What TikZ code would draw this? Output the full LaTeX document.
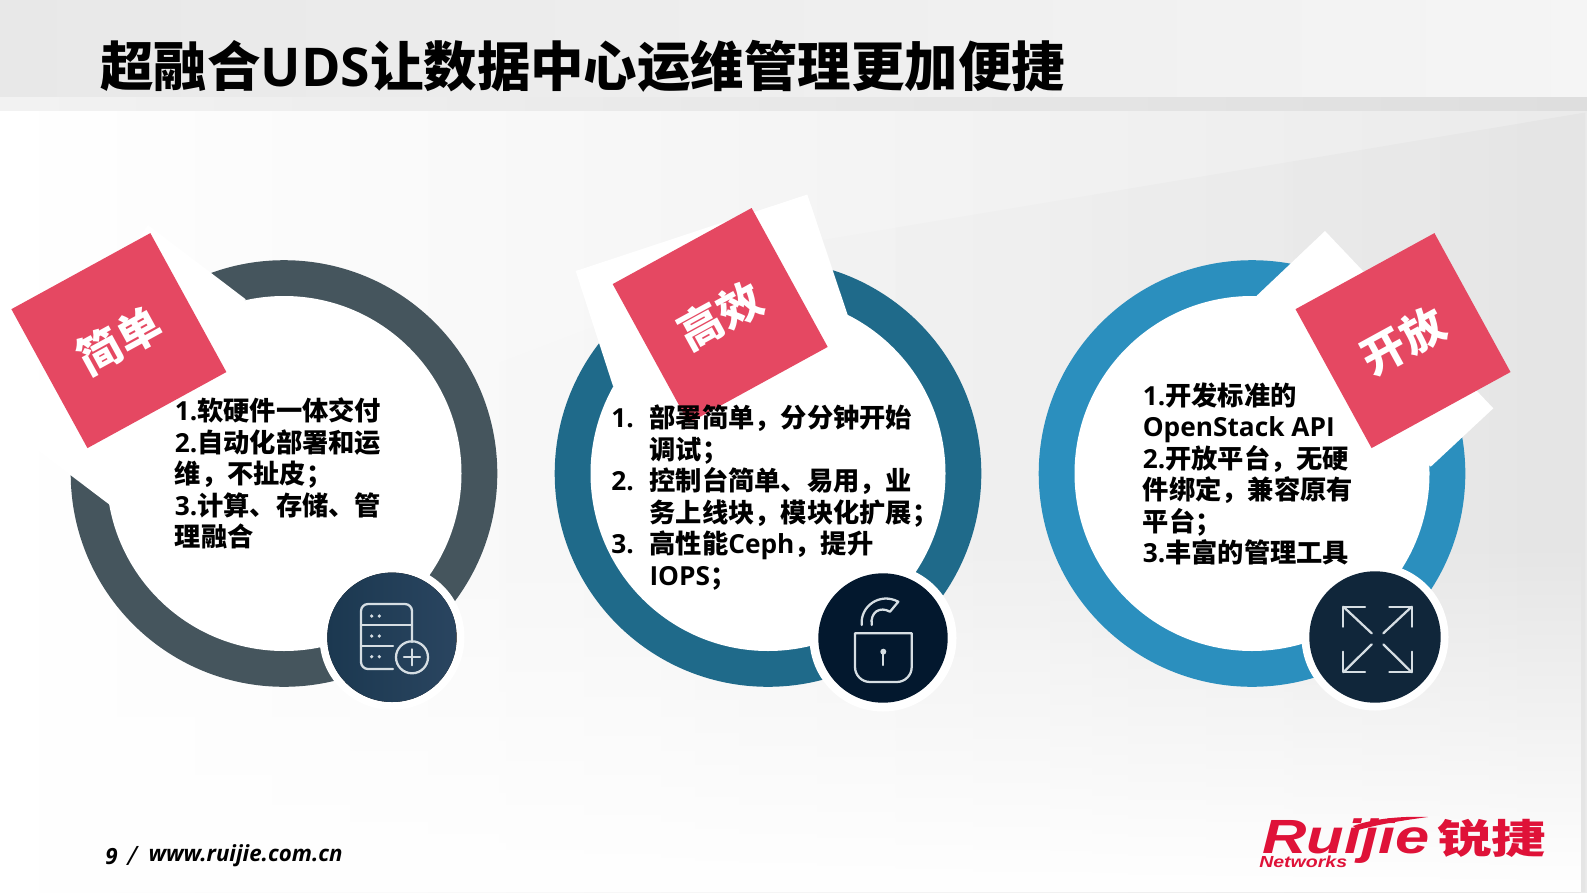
\documentclass[tikz,border=0pt]{standalone}
\usepackage{fontspec}
\usepackage{graphicx}
\setmainfont{Noto Sans CJK SC}
\newfontfamily\latnfont{Open Sans}
\newfontfamily\logofont{Liberation Sans}
\usetikzlibrary{fadings}
\definecolor{ringgrey}{HTML}{45555D}
\definecolor{ringteal}{HTML}{1F6A8A}
\definecolor{ringblue}{HTML}{2B8FBE}
\definecolor{tagpink}{HTML}{E54862}
\definecolor{logored}{HTML}{DF1238}
\definecolor{iconlight}{HTML}{D6DEE3}
\definecolor{disclow}{HTML}{1B3850}
\definecolor{dischigh}{HTML}{2A4560}
\definecolor{discnavy}{HTML}{03182E}
\definecolor{discdeep}{HTML}{10263A}
\newcommand{\latn}[1]{{\latnfont\bfseries #1}}
\newcommand{\numcol}[1]{\makebox[28.7pt][l]{\latn{#1}}}
\tikzfading[name=fadebottom, top color=transparent!100, bottom color=transparent!0]
\tikzfading[name=fadeleft, left color=transparent!100, right color=transparent!0]
\tikzset{
  ringdisk/.style={fill=#1},
  whitepatch/.style={fill=white},
  tagbox/.style={fill=tagpink, text=white, minimum size=118.8pt, inner sep=0pt,
    font=\fontsize{33}{33}\selectfont\bfseries},
  bodytext/.style={align=left, inner sep=0pt, anchor=west, text=black,
    font=\fontsize{19.7}{23.6}\selectfont\bfseries},
  iconline/.style={draw=iconlight, line width=1.7pt, line cap=round, line join=round},
  footertext/.style={anchor=west, inner sep=0pt, font=\fontsize{16.7}{16.7}\selectfont\latnfont\bfseries\itshape},
  logotext/.style={anchor=base west, inner sep=0pt, text=logored}
}
\begin{document}
\begin{tikzpicture}[x=0.75pt,y=-0.75pt]
\useasboundingbox (0,0) rectangle (1587,892);

% page background
\fill[left color=white, middle color=white!97!black, right color=white!92!black] (0,110) rectangle (1587,892);
\fill[black, opacity=0.025, path fading=fadeleft] (1587,112) -- (820,240) -- (400,400) -- (400,892) -- (1587,892) -- cycle;
\fill[white, path fading=fadebottom] (0,540) rectangle (1587,892);
\fill[left color=white!91!black, right color=white!96!black] (0,0) rectangle (1587,97);
\fill[left color=white!95!black, right color=white!87!black] (0,97) rectangle (1587,110);

% title
\node[anchor=west, inner sep=0pt, font=\fontsize{40.1}{40.1}\selectfont\bfseries] (title) at (100,66.5) {超融合\latn{UDS}让数据中心运维管理更加便捷};

% rings
\foreach \cx/\ringcol in {284/ringgrey,768/ringteal,1252/ringblue} {
  \fill[ringdisk=\ringcol] (\cx,473.5) circle (213.3);
}

% white patches behind the tags
\fill[whitepatch] (148,225) -- (245.7,299.3) -- (110,505) -- (7,427) -- cycle;
\fill[whitepatch] (807.3,194.5) -- (575.7,271) -- (613,386) -- (847.7,315) -- cycle;
\fill[whitepatch] (1325,231) -- (1493.3,408.3) -- (1430.7,466.7) -- (1256.7,295.7) -- cycle;

% inner discs
\foreach \cx in {284,768,1252} {
  \fill[white] (\cx,473.5) circle (177.5);
}

% tags
\node[tagbox, rotate=28.7] (tagsimple) at (118.9,340.6) {简单};
\node[tagbox, rotate=28.7] (tagfast) at (720.2,315.5) {高效};
\node[tagbox, rotate=28.7] (tagopen) at (1403,340.6) {开放};

% icon discs
\fill[white] (392,637.3) circle (72.5);
\fill[white] (883,638) circle (73.5);
\fill[white] (1375,637) circle (73.5);
\fill[left color=disclow, right color=dischigh] (392,637.3) circle (64.7);
\fill[discnavy] (883,638) circle (64.7);
\fill[discdeep] (1375,637) circle (65.7);

% server icon
\draw[iconline] (393,669) -- (368,669) arc[start angle=90, end angle=180, radius=7] -- (361,611) arc[start angle=180, end angle=270, radius=7] -- (405,604) arc[start angle=270, end angle=360, radius=7] -- (412,642);
\draw[iconline] (361,625) -- (412,625);
\draw[iconline] (361,645.7) -- (393,645.7);
\draw[iconline] (412,657.3) circle (16);
\draw[iconline] (404,657.3) -- (420,657.3);
\draw[iconline] (412,649.3) -- (412,665.3);
\foreach \rowy in {616,636,656.7} {
  \fill[iconlight] (371.7,\rowy) circle (1.8);
  \fill[iconlight] (379.3,\rowy) circle (1.8);
}

% lock icon
\draw[iconline] (855,633.3) -- (911.7,633.3) -- (911.7,667) arc[start angle=0, end angle=90, radius=15] -- (870,682) arc[start angle=90, end angle=180, radius=15] -- cycle;
\draw[iconline] (861.7,625) .. controls (860,606) and (880,592) .. (898.3,601.7) -- (890,611.7) .. controls (880,606) and (870,612) .. (871.7,625);
\fill[iconlight] (883.3,651.7) circle (3);
\draw[iconline] (883.3,651.7) -- (883.3,665);

% expand icon
\draw[iconline] (1371.7,633.3) -- (1343.3,606.7);
\draw[iconline] (1365,606.7) -- (1343.3,606.7) -- (1343.3,626.7);
\draw[iconline] (1383.3,633.3) -- (1411.7,606.7);
\draw[iconline] (1389.3,606.7) -- (1411.7,606.7) -- (1411.7,626.7);
\draw[iconline] (1371.7,644.3) -- (1343.3,672.3);
\draw[iconline] (1365,672.3) -- (1343.3,672.3) -- (1343.3,651.7);
\draw[iconline] (1383.3,644.3) -- (1411.7,672.3);
\draw[iconline] (1389.3,672.3) -- (1411.7,672.3) -- (1411.7,651.7);

% ring texts
\node[bodytext] (textsimple) at (174.5,473.5) {\latn{1.}软硬件一体交付\\\latn{2.}自动化部署和运\\维，不扯皮；\\\latn{3.}计算、存储、管\\理融合};
\node[bodytext] (textfast) at (611,497.5) {\numcol{1.}部署简单，分分钟开始\\\numcol{}调试；\\\numcol{2.}控制台简单、易用，业\\\numcol{}务上线块，模块化扩展；\\\numcol{3.}高性能\latn{Ceph}，提升\\\numcol{}\latn{IOPS}；};
\node[bodytext] (textopen) at (1142.5,474) {\latn{1.}开发标准的\\\latn{OpenStack API}\\\latn{2.}开放平台，无硬\\件绑定，兼容原有\\平台；\\\latn{3.}丰富的管理工具};

% footer
\node[footertext] (pagenum) at (105,857) {9};
\node[footertext, font=\fontsize{20}{20}\selectfont\latnfont\itshape] (pagesep) at (127,855.5) {/};
\node[footertext] (website) at (148.3,855.5) {www.ruijie.com.cn};

% logo
\node[logotext, font=\fontsize{36}{36}\selectfont\logofont\bfseries\itshape] (logoname) at (1262,853) {\scalebox{1.28}[1]{Ruijie}};
\node[logotext, font=\fontsize{12}{12}\selectfont\logofont\bfseries\itshape] (logonet) at (1259,867) {\scalebox{1.22}[1]{Networks}};
\node[logotext, font=\fontsize{30}{30}\selectfont\bfseries] (logocn) at (1437,853) {\scalebox{1.36}[1]{锐捷}};
\fill[logored] (1353,826) .. controls (1375,818) and (1405,816) .. (1428,817) .. controls (1405,820) and (1380,824) .. (1358,830) -- cycle;
\end{tikzpicture}
\end{document}
